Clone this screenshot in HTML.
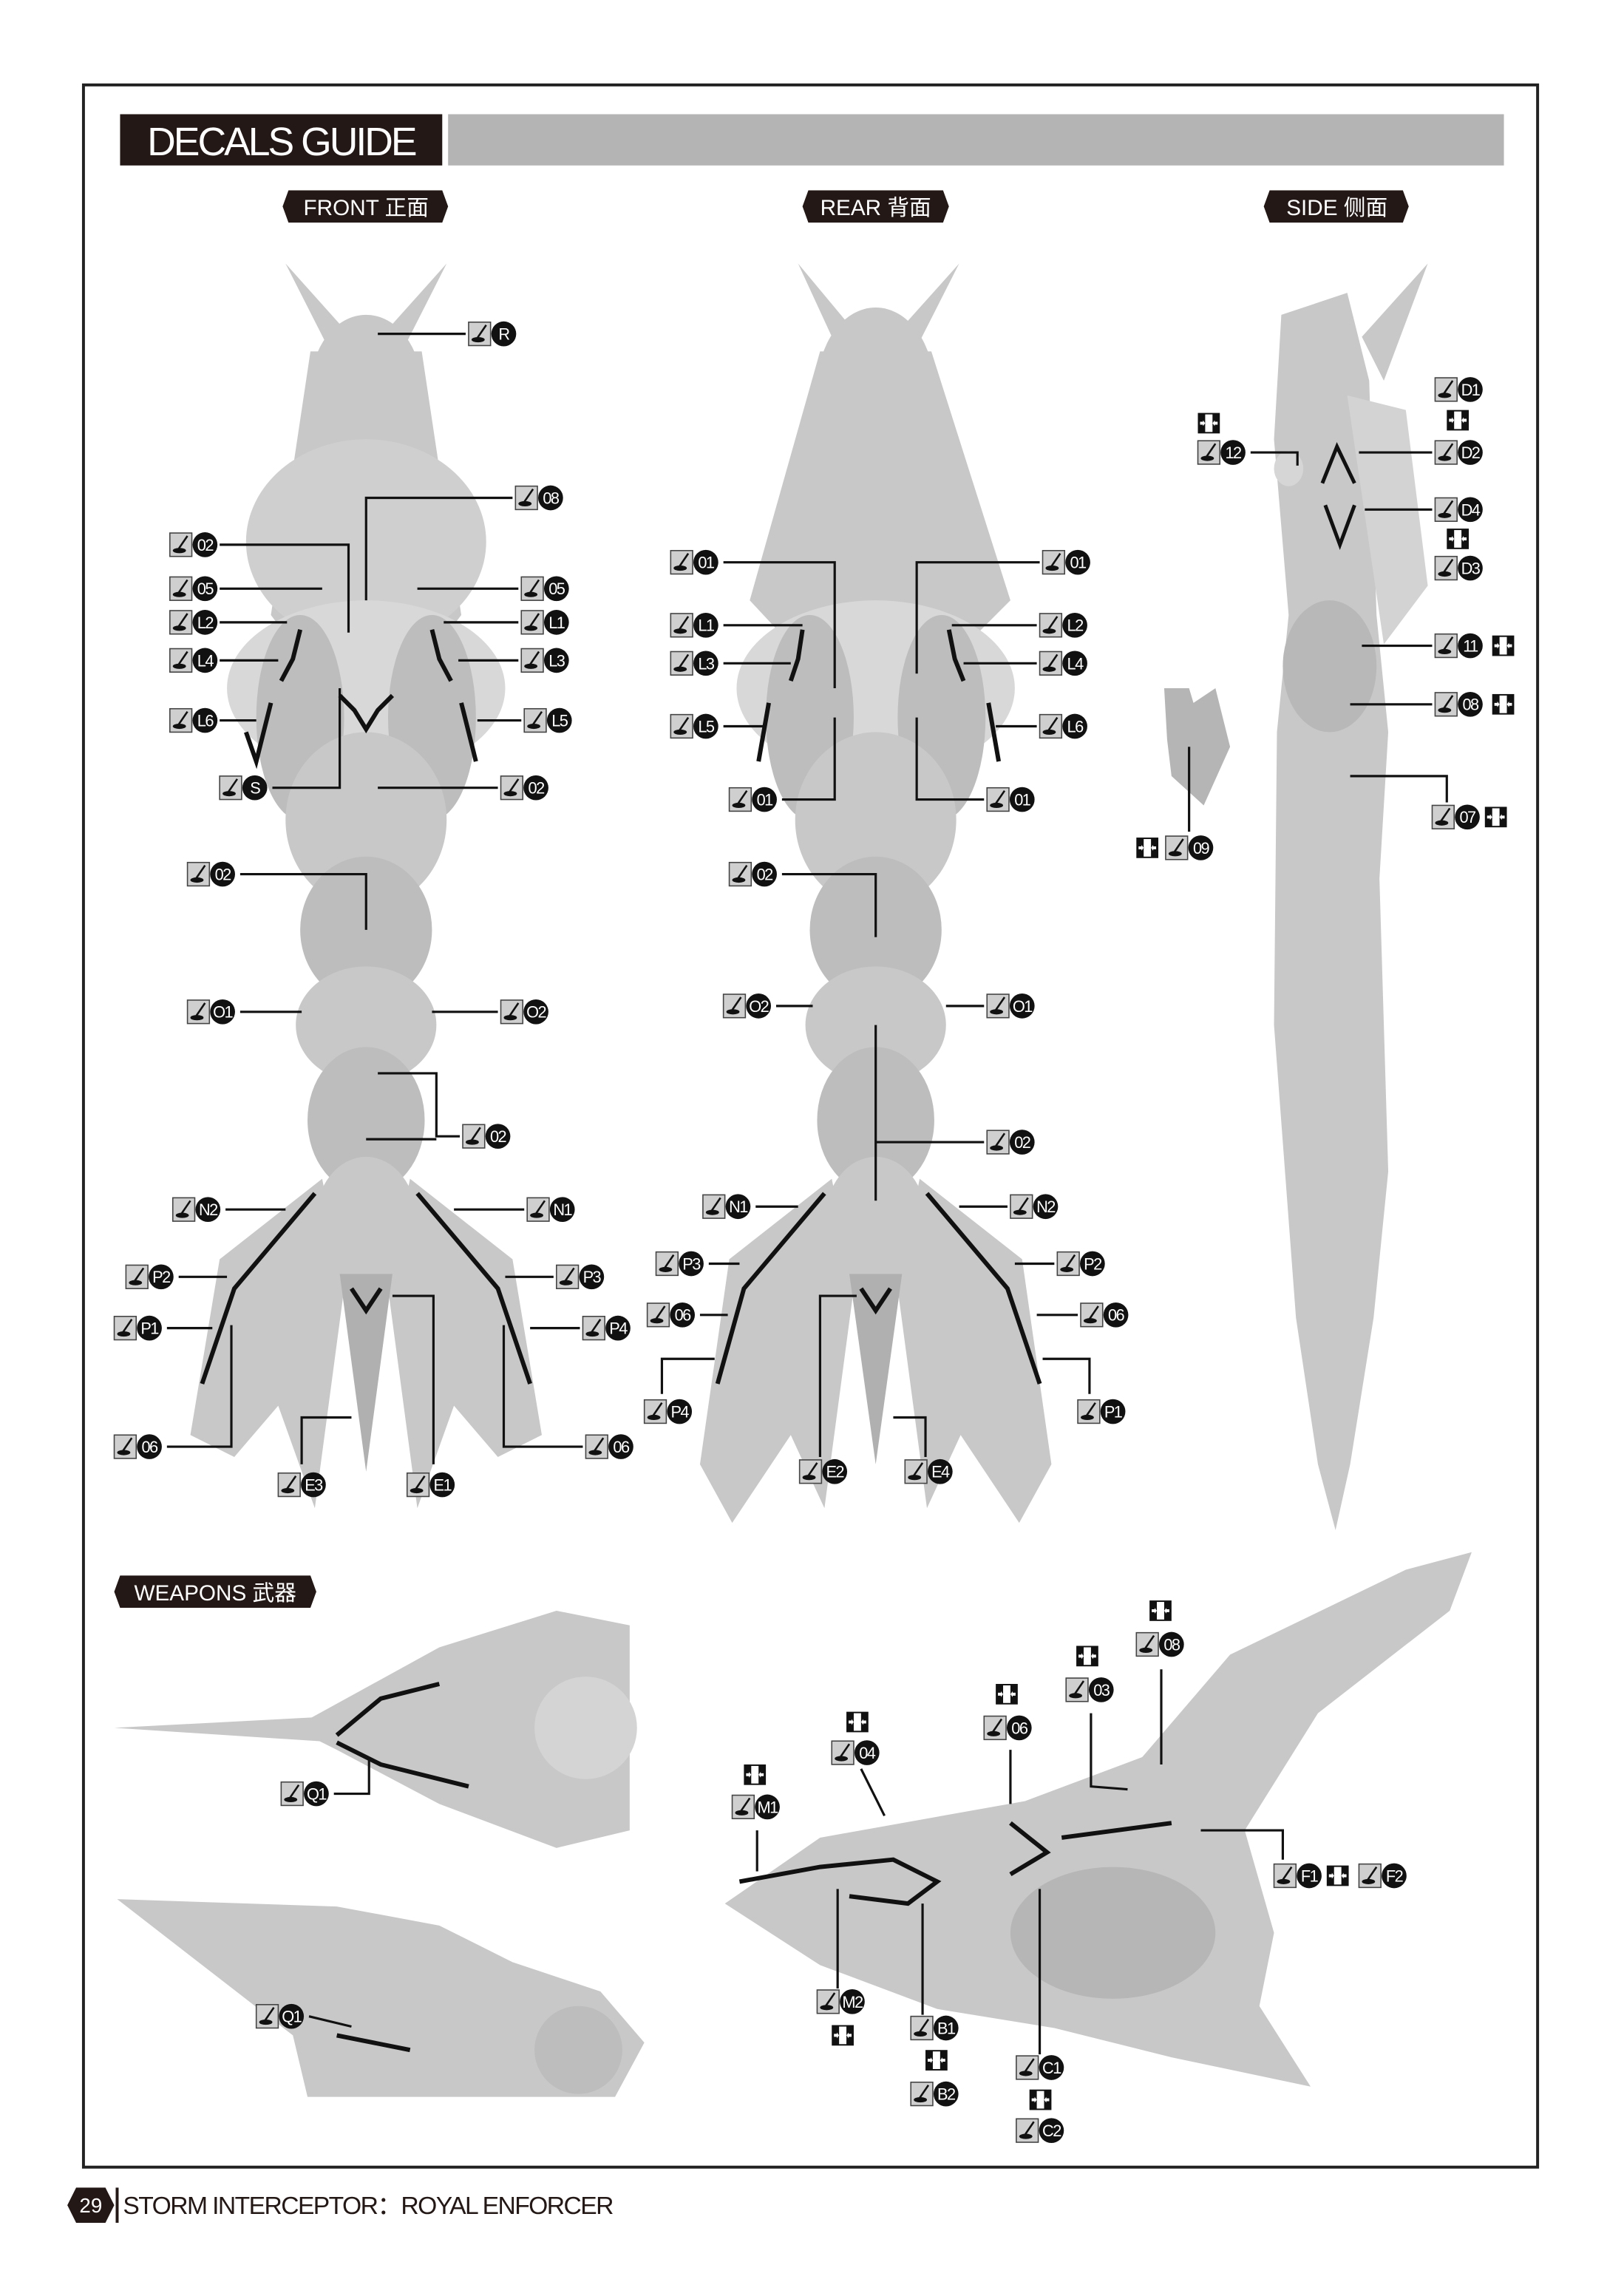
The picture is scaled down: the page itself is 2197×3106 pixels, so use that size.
<!DOCTYPE html>
<html><head><meta charset="utf-8">
<style>
html,body{margin:0;padding:0;background:#fff;}
svg{display:block;}
text{font-family:"Liberation Sans","Noto Sans CJK SC",sans-serif;}
</style></head>
<body>
<svg width="2197" height="3106" viewBox="0 0 1109 1568" preserveAspectRatio="none" xmlns="http://www.w3.org/2000/svg">
<defs>
<g id="ic"><rect x="0" y="-8" width="15" height="16" fill="#cfcfcf" stroke="#444" stroke-width="0.8"/><ellipse cx="6.5" cy="4" rx="4.5" ry="1.8" fill="#111"/><path d="M5.5 3.5 L12 -6" stroke="#111" stroke-width="1.3" fill="none"/></g>
<g id="sw"><rect x="0" y="-7" width="15" height="14" fill="#111"/><rect x="5" y="-6" width="5" height="12" fill="#fff"/><path d="M1.5 -1h2v-1l1.5 2-1.5 2v-1h-2z" fill="#fff"/><path d="M13.5 -1h-2v-1l-1.5 2 1.5 2v-1h2z" fill="#fff"/></g>
<g id="cc"><circle cx="0" cy="0" r="8.5" fill="#111"/></g>
</defs>
<rect width="1109" height="1568" fill="#fff"/>
<rect x="57" y="58" width="993" height="1422" fill="none" stroke="#222" stroke-width="2"/>
<!-- header -->
<rect x="82" y="78" width="220" height="35" fill="#231815"/>
<text x="192" y="106" font-size="27" fill="#fff" text-anchor="middle" letter-spacing="-1.5">DECALS GUIDE</text>
<rect x="306" y="78" width="721" height="35" fill="#b4b4b4"/>
<!-- tags -->
<g fill="#231815">
<polygon points="197,130 302,130 306,141 302,152 197,152 193,141"/>
<polygon points="552,130 644,130 648,141 644,152 552,152 548,141"/>
<polygon points="867,130 958,130 962,141 958,152 867,152 863,141"/>
<polygon points="82,1076 212,1076 216,1087 212,1098 82,1098 78,1087"/>
</g>
<g fill="#fff" font-size="15" text-anchor="middle">
<text x="250" y="147">FRONT 正面</text>
<text x="598" y="147">REAR 背面</text>
<text x="913" y="147">SIDE 侧面</text>
<text x="147" y="1093">WEAPONS 武器</text>
</g>

<!-- FRONT figure -->
<g fill="#c8c8c8">
<polygon points="195,180 238,228 228,245"/><polygon points="305,180 262,228 272,245"/>
<ellipse cx="250" cy="265" rx="38" ry="50"/>
<polygon points="212,240 288,240 315,420 300,440 200,440 185,420"/>
<ellipse cx="250" cy="370" rx="82" ry="70" fill="#cfcfcf"/>
<ellipse cx="250" cy="470" rx="95" ry="60" fill="#d8d8d8"/>
<ellipse cx="205" cy="490" rx="30" ry="70" fill="#bdbdbd"/><ellipse cx="295" cy="490" rx="30" ry="70" fill="#bdbdbd"/>
<ellipse cx="250" cy="560" rx="55" ry="60"/>
<ellipse cx="250" cy="635" rx="45" ry="50" fill="#bdbdbd"/>
<ellipse cx="250" cy="700" rx="48" ry="40"/>
<ellipse cx="250" cy="765" rx="40" ry="50" fill="#bdbdbd"/>
<ellipse cx="250" cy="835" rx="35" ry="45"/>
<polygon points="220,805 150,860 130,980 160,995 190,960 215,1030 235,880"/>
<polygon points="280,805 350,860 370,980 340,995 310,960 285,1030 265,880"/>
<polygon points="232,870 250,1005 268,870" fill="#b0b0b0"/>
</g>
<g stroke="#111" stroke-width="3" fill="none">
<polyline points="232,475 242,485 250,498 258,485 268,475"/>
<polyline points="205,430 200,450 192,465"/><polyline points="295,430 300,450 308,465"/>
<polyline points="185,480 175,520 168,500"/><polyline points="315,480 325,520"/>
<polyline points="215,815 160,880 138,945"/><polyline points="285,815 340,880 362,945"/>
<polyline points="240,880 250,895 260,880"/>
</g>

<!-- REAR figure -->
<g fill="#c8c8c8">
<polygon points="545,180 585,228 575,245"/><polygon points="655,180 612,228 622,245"/>
<ellipse cx="598" cy="265" rx="40" ry="55"/>
<polygon points="560,240 636,240 690,410 660,440 540,440 512,410"/>
<ellipse cx="598" cy="470" rx="95" ry="60" fill="#d8d8d8"/>
<ellipse cx="553" cy="490" rx="30" ry="70" fill="#bdbdbd"/><ellipse cx="643" cy="490" rx="30" ry="70" fill="#bdbdbd"/>
<ellipse cx="598" cy="560" rx="55" ry="60"/>
<ellipse cx="598" cy="635" rx="45" ry="50" fill="#bdbdbd"/>
<ellipse cx="598" cy="700" rx="48" ry="40"/>
<ellipse cx="598" cy="765" rx="40" ry="50" fill="#bdbdbd"/>
<ellipse cx="598" cy="835" rx="35" ry="45"/>
<polygon points="568,805 498,860 478,1000 500,1040 540,980 563,1030 583,880"/>
<polygon points="628,805 698,860 718,1000 696,1040 656,980 633,1030 613,880"/>
<polygon points="580,870 598,1000 616,870" fill="#b0b0b0"/>
</g>
<g stroke="#111" stroke-width="3" fill="none">
<polyline points="548,430 545,450 540,465"/><polyline points="648,430 652,450 658,465"/>
<polyline points="525,480 518,520"/><polyline points="675,480 682,520"/>
<polyline points="563,815 508,880 490,945"/><polyline points="633,815 688,880 710,945"/>
<polyline points="588,880 598,895 608,880"/>
</g>

<!-- SIDE figure -->
<g fill="#c8c8c8">
<polygon points="930,230 975,180 945,260"/>
<polygon points="875,215 920,200 935,260 940,420 948,500 942,600 948,800 938,900 922,1000 912,1045 900,1000 885,900 870,700 872,500 880,420 870,300"/>
<polygon points="920,270 960,280 975,400 945,440" fill="#d3d3d3"/>
<ellipse cx="908" cy="455" rx="32" ry="45" fill="#b8b8b8"/>
<ellipse cx="880" cy="320" rx="10" ry="12" fill="#d6d6d6"/>
<polygon points="795,470 812,470 815,480 830,470 840,510 822,550 800,530 797,505" fill="#b5b5b5"/>
</g>
<g stroke="#111" stroke-width="2.5" fill="none">
<polyline points="903,330 913,305 925,330"/><polyline points="905,345 915,372 925,345"/>
</g>

<!-- WEAPONS -->
<g fill="#c8c8c8">
<polygon points="78,1180 230,1172 232,1190"/>
<polygon points="200,1180 300,1125 380,1100 430,1110 430,1250 380,1262 300,1232 230,1195"/>
<circle cx="400" cy="1180" r="35" fill="#d4d4d4"/>
<polygon points="80,1297 230,1302 300,1315 350,1340 410,1360 440,1395 420,1432 210,1432 200,1390"/>
<circle cx="395" cy="1400" r="30" fill="#bdbdbd"/>
<polygon points="495,1300 560,1255 700,1230 780,1200 840,1130 960,1072 1005,1060 990,1100 900,1170 850,1250 870,1320 860,1370 895,1425 800,1405 720,1385 640,1372 560,1342"/>
<ellipse cx="760" cy="1320" rx="70" ry="45" fill="#b6b6b6"/>
</g>
<g stroke="#111" stroke-width="3" fill="none">
<polyline points="230,1185 260,1160 300,1150"/><polyline points="230,1190 260,1205 320,1220"/>
<polyline points="230,1390 280,1400"/>
<polyline points="505,1285 560,1275 610,1270 640,1285 620,1300 580,1295"/>
<polyline points="690,1245 715,1265 690,1280"/><polyline points="725,1255 800,1245"/>
</g>

<!-- connector lines -->
<g stroke="#111" stroke-width="1.6" fill="none">
<line x1="258" y1="228" x2="318" y2="228"/>
<polyline points="250,410 250,340 350,340"/>
<polyline points="150,372 238,372 238,432"/>
<line x1="150" y1="402" x2="220" y2="402"/><line x1="285" y1="402" x2="354" y2="402"/>
<line x1="150" y1="425" x2="196" y2="425"/><line x1="303" y1="425" x2="354" y2="425"/>
<line x1="150" y1="451" x2="190" y2="451"/><line x1="313" y1="451" x2="354" y2="451"/>
<line x1="150" y1="492" x2="175" y2="492"/><line x1="326" y1="492" x2="356" y2="492"/>
<polyline points="186,538 232,538 232,470"/><line x1="258" y1="538" x2="340" y2="538"/>
<polyline points="164,597 250,597 250,635"/>
<line x1="164" y1="691" x2="206" y2="691"/><line x1="295" y1="691" x2="340" y2="691"/>
<polyline points="258,733 298,733 298,776 314,776"/><line x1="250" y1="778" x2="298" y2="778"/>
<line x1="154" y1="826" x2="195" y2="826"/><line x1="310" y1="826" x2="358" y2="826"/>
<line x1="122" y1="872" x2="155" y2="872"/><line x1="345" y1="872" x2="378" y2="872"/>
<line x1="114" y1="907" x2="145" y2="907"/><line x1="362" y1="907" x2="396" y2="907"/>
<polyline points="114,988 158,988 158,905"/><polyline points="398,988 344,988 344,905"/>
<polyline points="206,1000 206,968 240,968"/><polyline points="296,1000 296,885 268,885"/>
<polyline points="494,384 570,384 570,470"/><polyline points="710,384 626,384 626,460"/>
<line x1="494" y1="427" x2="548" y2="427"/><line x1="650" y1="427" x2="708" y2="427"/>
<line x1="494" y1="453" x2="540" y2="453"/><line x1="658" y1="453" x2="708" y2="453"/>
<line x1="494" y1="496" x2="522" y2="496"/><line x1="680" y1="496" x2="708" y2="496"/>
<polyline points="534,546 570,546 570,490"/><polyline points="672,546 626,546 626,490"/>
<polyline points="534,597 598,597 598,640"/>
<line x1="530" y1="687" x2="555" y2="687"/><line x1="646" y1="687" x2="672" y2="687"/>
<polyline points="598,700 598,820"/><line x1="598" y1="780" x2="672" y2="780"/>
<line x1="516" y1="824" x2="545" y2="824"/><line x1="655" y1="824" x2="688" y2="824"/>
<line x1="484" y1="863" x2="505" y2="863"/><line x1="693" y1="863" x2="720" y2="863"/>
<line x1="478" y1="898" x2="497" y2="898"/><line x1="708" y1="898" x2="736" y2="898"/>
<polyline points="452,952 452,928 488,928"/><polyline points="744,952 744,928 712,928"/>
<polyline points="560,995 560,885 585,885"/><polyline points="632,995 632,968 610,968"/>
<line x1="928" y1="309" x2="978" y2="309"/><polyline points="854,309 886,309 886,318"/>
<line x1="932" y1="348" x2="978" y2="348"/>
<line x1="930" y1="441" x2="978" y2="441"/>
<line x1="922" y1="481" x2="978" y2="481"/>
<polyline points="922,530 988,530 988,548"/>
<line x1="812" y1="510" x2="812" y2="568"/>
<polyline points="228,1225 252,1225 252,1200"/>
<line x1="211" y1="1377" x2="240" y2="1384"/>
<line x1="517" y1="1250" x2="517" y2="1278"/>
<line x1="588" y1="1208" x2="604" y2="1240"/>
<line x1="690" y1="1195" x2="690" y2="1232"/>
<polyline points="745,1170 745,1220 770,1222"/>
<line x1="793" y1="1140" x2="793" y2="1205"/>
<polyline points="820,1250 876,1250 876,1270"/>
<line x1="572" y1="1290" x2="572" y2="1358"/>
<line x1="630" y1="1300" x2="630" y2="1376"/>
<line x1="710" y1="1290" x2="710" y2="1403"/>
</g>

<g>
<use href="#ic" x="320" y="228"/><use href="#ic" x="352" y="340"/>
<use href="#ic" x="116" y="372"/><use href="#ic" x="116" y="402"/><use href="#ic" x="356" y="402"/>
<use href="#ic" x="116" y="425"/><use href="#ic" x="356" y="425"/>
<use href="#ic" x="116" y="451"/><use href="#ic" x="356" y="451"/>
<use href="#ic" x="116" y="492"/><use href="#ic" x="358" y="492"/>
<use href="#ic" x="150" y="538"/><use href="#ic" x="342" y="538"/>
<use href="#ic" x="128" y="597"/><use href="#ic" x="128" y="691"/><use href="#ic" x="342" y="691"/>
<use href="#ic" x="316" y="776"/>
<use href="#ic" x="118" y="826"/><use href="#ic" x="360" y="826"/>
<use href="#ic" x="86" y="872"/><use href="#ic" x="380" y="872"/>
<use href="#ic" x="78" y="907"/><use href="#ic" x="398" y="907"/>
<use href="#ic" x="78" y="988"/><use href="#ic" x="400" y="988"/>
<use href="#ic" x="190" y="1014"/><use href="#ic" x="278" y="1014"/>
<use href="#ic" x="458" y="384"/><use href="#ic" x="712" y="384"/>
<use href="#ic" x="458" y="427"/><use href="#ic" x="710" y="427"/>
<use href="#ic" x="458" y="453"/><use href="#ic" x="710" y="453"/>
<use href="#ic" x="458" y="496"/><use href="#ic" x="710" y="496"/>
<use href="#ic" x="498" y="546"/><use href="#ic" x="674" y="546"/>
<use href="#ic" x="498" y="597"/>
<use href="#ic" x="494" y="687"/><use href="#ic" x="674" y="687"/>
<use href="#ic" x="674" y="780"/>
<use href="#ic" x="480" y="824"/><use href="#ic" x="690" y="824"/>
<use href="#ic" x="448" y="863"/><use href="#ic" x="722" y="863"/>
<use href="#ic" x="442" y="898"/><use href="#ic" x="738" y="898"/>
<use href="#ic" x="440" y="964"/><use href="#ic" x="736" y="964"/>
<use href="#ic" x="546" y="1005"/><use href="#ic" x="618" y="1005"/>
<use href="#ic" x="980" y="266"/><use href="#ic" x="980" y="309"/><use href="#ic" x="818" y="309"/>
<use href="#ic" x="980" y="348"/><use href="#ic" x="980" y="388"/>
<use href="#ic" x="980" y="441"/><use href="#ic" x="980" y="481"/><use href="#ic" x="978" y="558"/>
<use href="#ic" x="796" y="579"/>
<use href="#ic" x="192" y="1225"/><use href="#ic" x="175" y="1377"/>
<use href="#ic" x="500" y="1234"/><use href="#ic" x="568" y="1197"/><use href="#ic" x="672" y="1180"/>
<use href="#ic" x="728" y="1154"/><use href="#ic" x="776" y="1123"/>
<use href="#ic" x="870" y="1281"/><use href="#ic" x="928" y="1281"/>
<use href="#ic" x="558" y="1367"/><use href="#ic" x="622" y="1385"/><use href="#ic" x="622" y="1430"/>
<use href="#ic" x="694" y="1412"/><use href="#ic" x="694" y="1455"/>
</g>
<g>
<use href="#sw" x="988" y="287"/><use href="#sw" x="818" y="289"/><use href="#sw" x="988" y="368"/>
<use href="#sw" x="1019" y="441"/><use href="#sw" x="1019" y="481"/><use href="#sw" x="1014" y="558"/>
<use href="#sw" x="776" y="579"/>
<use href="#sw" x="508" y="1212"/><use href="#sw" x="578" y="1176"/><use href="#sw" x="680" y="1157"/>
<use href="#sw" x="735" y="1131"/><use href="#sw" x="785" y="1100"/><use href="#sw" x="906" y="1281"/>
<use href="#sw" x="568" y="1390"/><use href="#sw" x="632" y="1407"/><use href="#sw" x="703" y="1434"/>
</g>
<g>
<use href="#cc" x="344" y="228"/><use href="#cc" x="376" y="340"/>
<use href="#cc" x="140" y="372"/><use href="#cc" x="140" y="402"/><use href="#cc" x="380" y="402"/>
<use href="#cc" x="140" y="425"/><use href="#cc" x="380" y="425"/>
<use href="#cc" x="140" y="451"/><use href="#cc" x="380" y="451"/>
<use href="#cc" x="140" y="492"/><use href="#cc" x="382" y="492"/>
<use href="#cc" x="174" y="538"/><use href="#cc" x="366" y="538"/>
<use href="#cc" x="152" y="597"/><use href="#cc" x="152" y="691"/><use href="#cc" x="366" y="691"/>
<use href="#cc" x="340" y="776"/>
<use href="#cc" x="142" y="826"/><use href="#cc" x="384" y="826"/>
<use href="#cc" x="110" y="872"/><use href="#cc" x="404" y="872"/>
<use href="#cc" x="102" y="907"/><use href="#cc" x="422" y="907"/>
<use href="#cc" x="102" y="988"/><use href="#cc" x="424" y="988"/>
<use href="#cc" x="214" y="1014"/><use href="#cc" x="302" y="1014"/>
<use href="#cc" x="482" y="384"/><use href="#cc" x="736" y="384"/>
<use href="#cc" x="482" y="427"/><use href="#cc" x="734" y="427"/>
<use href="#cc" x="482" y="453"/><use href="#cc" x="734" y="453"/>
<use href="#cc" x="482" y="496"/><use href="#cc" x="734" y="496"/>
<use href="#cc" x="522" y="546"/><use href="#cc" x="698" y="546"/>
<use href="#cc" x="522" y="597"/>
<use href="#cc" x="518" y="687"/><use href="#cc" x="698" y="687"/>
<use href="#cc" x="698" y="780"/>
<use href="#cc" x="504" y="824"/><use href="#cc" x="714" y="824"/>
<use href="#cc" x="472" y="863"/><use href="#cc" x="746" y="863"/>
<use href="#cc" x="466" y="898"/><use href="#cc" x="762" y="898"/>
<use href="#cc" x="464" y="964"/><use href="#cc" x="760" y="964"/>
<use href="#cc" x="570" y="1005"/><use href="#cc" x="642" y="1005"/>
<use href="#cc" x="1004" y="266"/><use href="#cc" x="1004" y="309"/><use href="#cc" x="842" y="309"/>
<use href="#cc" x="1004" y="348"/><use href="#cc" x="1004" y="388"/>
<use href="#cc" x="1004" y="441"/><use href="#cc" x="1004" y="481"/><use href="#cc" x="1002" y="558"/>
<use href="#cc" x="820" y="579"/>
<use href="#cc" x="216" y="1225"/><use href="#cc" x="199" y="1377"/>
<use href="#cc" x="524" y="1234"/><use href="#cc" x="592" y="1197"/><use href="#cc" x="696" y="1180"/>
<use href="#cc" x="752" y="1154"/><use href="#cc" x="800" y="1123"/>
<use href="#cc" x="894" y="1281"/><use href="#cc" x="952" y="1281"/>
<use href="#cc" x="582" y="1367"/><use href="#cc" x="646" y="1385"/><use href="#cc" x="646" y="1430"/>
<use href="#cc" x="718" y="1412"/><use href="#cc" x="718" y="1455"/>
</g>
<g fill="#fff" font-size="11" text-anchor="middle" letter-spacing="-0.8">
<text x="344" y="232">R</text><text x="376" y="344">08</text>
<text x="140" y="376">02</text><text x="140" y="406">05</text><text x="380" y="406">05</text>
<text x="140" y="429">L2</text><text x="380" y="429">L1</text>
<text x="140" y="455">L4</text><text x="380" y="455">L3</text>
<text x="140" y="496">L6</text><text x="382" y="496">L5</text>
<text x="174" y="542">S</text><text x="366" y="542">02</text>
<text x="152" y="601">02</text><text x="152" y="695">O1</text><text x="366" y="695">O2</text>
<text x="340" y="780">02</text>
<text x="142" y="830">N2</text><text x="384" y="830">N1</text>
<text x="110" y="876">P2</text><text x="404" y="876">P3</text>
<text x="102" y="911">P1</text><text x="422" y="911">P4</text>
<text x="102" y="992">06</text><text x="424" y="992">06</text>
<text x="214" y="1018">E3</text><text x="302" y="1018">E1</text>
<text x="482" y="388">01</text><text x="736" y="388">01</text>
<text x="482" y="431">L1</text><text x="734" y="431">L2</text>
<text x="482" y="457">L3</text><text x="734" y="457">L4</text>
<text x="482" y="500">L5</text><text x="734" y="500">L6</text>
<text x="522" y="550">01</text><text x="698" y="550">01</text>
<text x="522" y="601">02</text>
<text x="518" y="691">O2</text><text x="698" y="691">O1</text>
<text x="698" y="784">02</text>
<text x="504" y="828">N1</text><text x="714" y="828">N2</text>
<text x="472" y="867">P3</text><text x="746" y="867">P2</text>
<text x="466" y="902">06</text><text x="762" y="902">06</text>
<text x="464" y="968">P4</text><text x="760" y="968">P1</text>
<text x="570" y="1009">E2</text><text x="642" y="1009">E4</text>
<text x="1004" y="270">D1</text><text x="1004" y="313">D2</text><text x="842" y="313">12</text>
<text x="1004" y="352">D4</text><text x="1004" y="392">D3</text>
<text x="1004" y="445">11</text><text x="1004" y="485">08</text><text x="1002" y="562">07</text>
<text x="820" y="583">09</text>
<text x="216" y="1229">Q1</text><text x="199" y="1381">Q1</text>
<text x="524" y="1238">M1</text><text x="592" y="1201">04</text><text x="696" y="1184">06</text>
<text x="752" y="1158">03</text><text x="800" y="1127">08</text>
<text x="894" y="1285">F1</text><text x="952" y="1285">F2</text>
<text x="582" y="1371">M2</text><text x="646" y="1389">B1</text><text x="646" y="1434">B2</text>
<text x="718" y="1416">C1</text><text x="718" y="1459">C2</text>
</g>

<polygon points="46,1506 52,1494 72,1494 78,1506 72,1518 52,1518" fill="#231815"/>
<line x1="80" y1="1494" x2="80" y2="1518" stroke="#231815" stroke-width="2"/>
<text x="62" y="1511" font-size="14" fill="#fff" text-anchor="middle">29</text>
<text x="84" y="1512" font-size="17" fill="#231815" letter-spacing="-0.8">STORM INTERCEPTOR：ROYAL ENFORCER</text>
</svg>
</body></html>
